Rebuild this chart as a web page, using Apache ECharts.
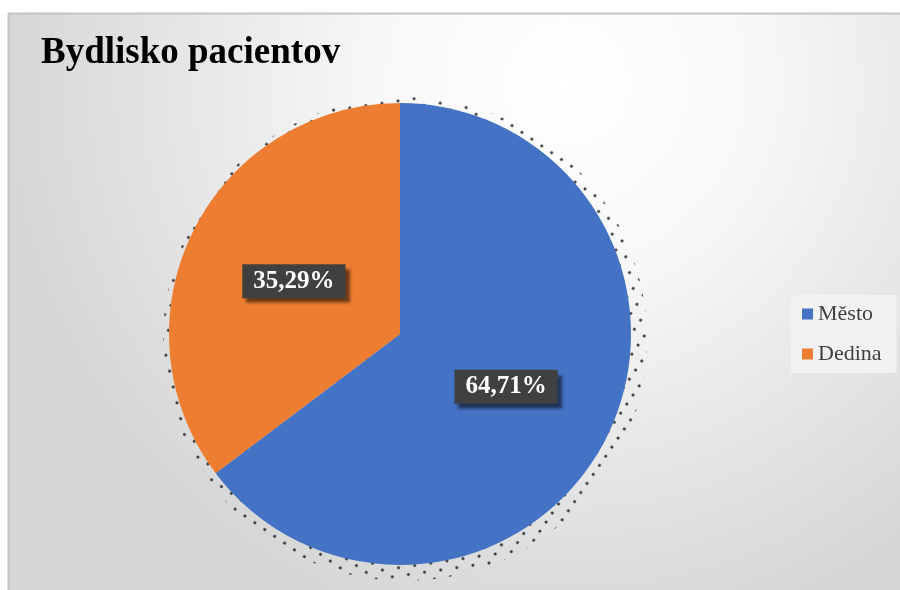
<!DOCTYPE html>
<html>
<head>
<meta charset="utf-8">
<script src="https://cdn.jsdelivr.net/npm/echarts@6/dist/echarts.min.js"></script>
<style>
  html, body { margin: 0; padding: 0; background: #ffffff; }
  #chart { width: 900px; height: 590px; }
</style>
</head>
<body>
<div id="chart"></div>
<script>
// Residence of patients: town vs. village, share in percent
const categories = ['Město', 'Dedina'];
const shares = [64.71, 35.29];
const colors = ['#4472C4', '#ED7D31'];
const chartTitle = 'Bydlisko pacientov';

const pieData = categories.map((name, i) => ({ name: name, value: shares[i] }));
const fmt = v => v.toFixed(2).replace('.', ',') + '%';
const serif = '"Liberation Serif", "Times New Roman", serif';

const chart = echarts.init(document.getElementById('chart'), null, { renderer: 'canvas' });

chart.setOption({
  backgroundColor: '#ffffff',
  animation: false,
  color: colors,
  graphic: [{
    type: 'rect',
    z: -10,
    silent: true,
    shape: { x: 8.5, y: 13.5, width: 900, height: 590 },
    style: {
      fill: {
        type: 'radial', x: 0.62, y: 0.12, r: 0.95,
        colorStops: [
          { offset: 0, color: '#ffffff' },
          { offset: 0.35, color: '#f7f7f7' },
          { offset: 1, color: '#d6d6d6' }
        ]
      },
      stroke: '#c4c4c4',
      lineWidth: 2
    }
  }],
  title: {
    text: chartTitle,
    left: 36,
    top: 30,
    textStyle: { fontFamily: serif, fontWeight: 'bold', fontSize: 37, color: '#000000' }
  },
  legend: {
    orient: 'vertical',
    left: 791,
    top: 295,
    data: categories,
    icon: 'rect',
    itemWidth: 11,
    itemHeight: 11,
    itemGap: 18,
    padding: [8, 15, 8, 11],
    backgroundColor: '#f2f2f2',
    textStyle: { fontFamily: serif, fontSize: 22, color: '#404040' }
  },
  series: [
    {
      type: 'pie',
      z: 2,
      center: [400, 334],
      radius: 231,
      startAngle: 90,
      clockwise: true,
      data: pieData,
      itemStyle: { borderWidth: 0 },
      labelLine: { show: false },
      emphasis: { disabled: true },
      label: {
        show: true,
        position: 'inside',
        formatter: p => fmt(p.value),
        fontFamily: serif,
        fontWeight: 'bold',
        fontSize: 25,
        color: '#ffffff',
        backgroundColor: '#404040',
        padding: [5, 11, 4, 11],
        shadowColor: 'rgba(0,0,0,0.55)',
        shadowOffsetX: 4,
        shadowOffsetY: 5,
        shadowBlur: 3
      }
    },
    {
      // stippled drop shadow behind the pie
      type: 'pie',
      silent: true,
      z: 1,
      center: [405, 339],
      radius: 242,
      startAngle: 90,
      data: pieData,
      label: { show: false },
      labelLine: { show: false },
      emphasis: { disabled: true },
      itemStyle: {
        color: 'transparent',
        borderWidth: 0,
        decal: {
          symbol: 'circle',
          symbolSize: 1,
          color: 'rgba(20,20,20,0.85)',
          backgroundColor: 'transparent',
          dashArrayX: [[2.4, 9]],
          dashArrayY: [2.4, 8],
          rotation: 0.6
        }
      }
    }
  ]
});
</script>
</body>
</html>
